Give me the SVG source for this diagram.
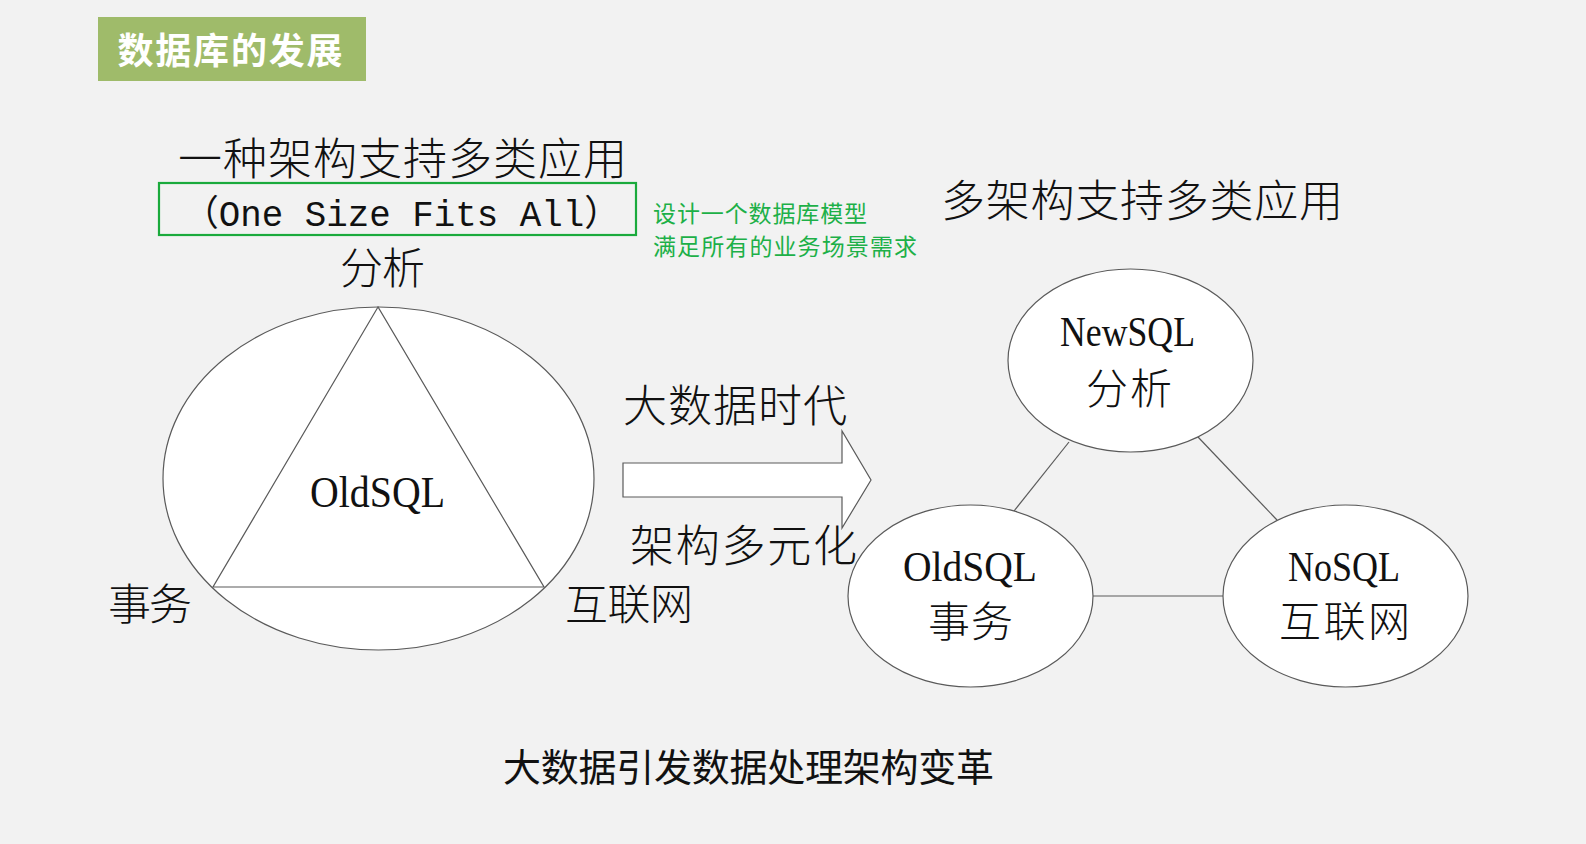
<svg xmlns="http://www.w3.org/2000/svg" width="1586" height="844" viewBox="0 0 1586 844">
<style>
.bg{fill:#f2f2f2}
.shape{fill:#ffffff;stroke:#5a5a5a;stroke-width:1.2}
.conn{stroke:#5a5a5a;stroke-width:1.2;fill:none}
.cjk{font-family:"Noto Sans CJK SC","Noto Sans CJK JP",sans-serif;font-weight:300;fill:#111}
.lat{font-family:"Liberation Serif","Noto Sans CJK SC",serif;fill:#111}
.mono{font-family:"Liberation Mono","Noto Sans CJK SC",monospace;fill:#111}
.note{font-family:"Noto Sans CJK SC",sans-serif;font-size:23px;fill:#1db048}
</style>
<rect class="bg" x="0" y="0" width="1586" height="844"/>

<g id="title">
<rect x="98" y="17" width="268" height="64" fill="#9fbb6a"/>
<text x="230" y="64" text-anchor="middle" font-family="Noto Sans CJK SC, sans-serif" font-weight="bold" font-size="36" fill="#ffffff" textLength="225" lengthAdjust="spacing">数据库的发展</text>
</g>

<g id="left-heading">
<text class="cjk" x="178" y="175" font-size="44" textLength="449" lengthAdjust="spacing">一种架构支持多类应用</text>
<rect x="159" y="183" width="477" height="52" fill="none" stroke="#1aaa3c" stroke-width="2.2"/>
<text class="mono" x="183" y="226" font-size="36" textLength="437" lengthAdjust="spacingAndGlyphs">（One Size Fits All）</text>
</g>

<g id="note">
<text class="note" x="653" y="222" textLength="214" lengthAdjust="spacing">设计一个数据库模型</text>
<text class="note" x="653" y="255" textLength="264" lengthAdjust="spacing">满足所有的业务场景需求</text>
</g>

<g id="oldsql-all">
<ellipse class="shape" cx="378.5" cy="478.5" rx="215.5" ry="171.5"/>
<polygon class="shape" points="378,307 213,587 544,587"/>
<text class="lat" x="310" y="507" font-size="44" textLength="135" lengthAdjust="spacingAndGlyphs">OldSQL</text>
<text class="cjk" x="340" y="284" font-size="43" textLength="85" lengthAdjust="spacing">分析</text>
<text class="cjk" x="108" y="620" font-size="43" textLength="84" lengthAdjust="spacing">事务</text>
<text class="cjk" x="565" y="620" font-size="43" textLength="128" lengthAdjust="spacing">互联网</text>
</g>

<g id="arrow">
<polygon class="shape" points="623,463 842,463 842,431 871,480 842,528 842,497 623,497"/>
<text class="cjk" x="623" y="422" font-size="44" textLength="224" lengthAdjust="spacing">大数据时代</text>
<text class="cjk" x="630" y="562" font-size="44" textLength="227" lengthAdjust="spacing">架构多元化</text>
</g>

<g id="right-heading">
<text class="cjk" x="941" y="217" font-size="44" textLength="402" lengthAdjust="spacing">多架构支持多类应用</text>
</g>

<g id="connectors">
<line class="conn" x1="1069" y1="442" x2="1014" y2="511"/>
<line class="conn" x1="1198" y1="437" x2="1277" y2="520"/>
<line class="conn" x1="1093" y1="596" x2="1223" y2="596"/>
</g>

<g id="newsql">
<ellipse class="shape" cx="1130.5" cy="360.5" rx="122.5" ry="91.5"/>
<text class="lat" x="1060" y="346" font-size="43" textLength="135" lengthAdjust="spacingAndGlyphs">NewSQL</text>
<text class="cjk" x="1086" y="404" font-size="42" textLength="86" lengthAdjust="spacing">分析</text>
</g>

<g id="oldsql">
<ellipse class="shape" cx="970.5" cy="596" rx="122.5" ry="91"/>
<text class="lat" x="903" y="581" font-size="42" textLength="134" lengthAdjust="spacingAndGlyphs">OldSQL</text>
<text class="cjk" x="928" y="637" font-size="42" textLength="85" lengthAdjust="spacing">事务</text>
</g>

<g id="nosql">
<ellipse class="shape" cx="1345.5" cy="596" rx="122.5" ry="91"/>
<text class="lat" x="1288" y="581" font-size="42" textLength="112" lengthAdjust="spacingAndGlyphs">NoSQL</text>
<text class="cjk" x="1279" y="637" font-size="42" textLength="131" lengthAdjust="spacing">互联网</text>
</g>

<g id="caption">
<text x="503" y="781" font-family="Noto Sans CJK SC, sans-serif" font-size="38" fill="#111" textLength="491" lengthAdjust="spacing">大数据引发数据处理架构变革</text>
</g>
</svg>
